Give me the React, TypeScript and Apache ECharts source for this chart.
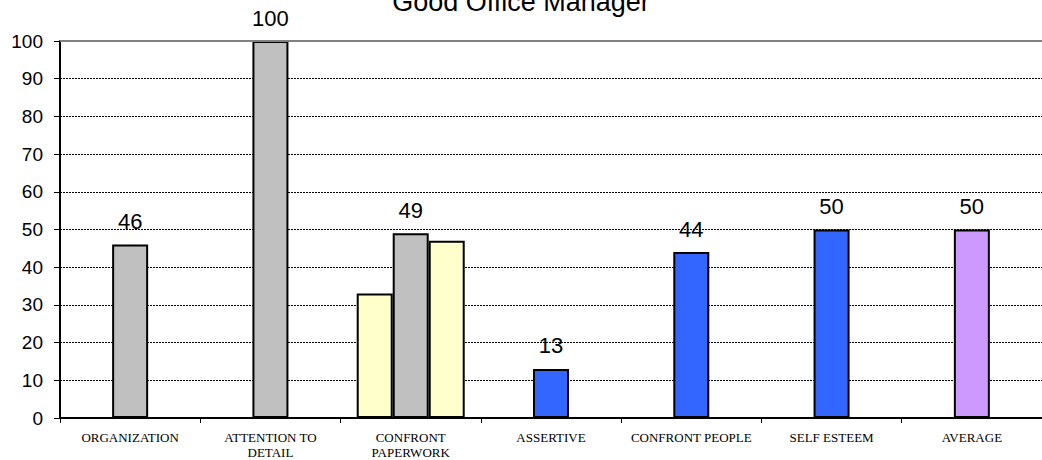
import React, { useEffect, useRef } from "react";
import * as echarts from "echarts";

const categories = [
  "ORGANIZATION",
  "ATTENTION TO\nDETAIL",
  "CONFRONT\nPAPERWORK",
  "ASSERTIVE",
  "CONFRONT PEOPLE",
  "SELF ESTEEM",
  "AVERAGE",
];
const scores = [46, 100, 49, 13, 44, 50, 50];
const scoreColors = ["#C0C0C0", "#C0C0C0", "#C0C0C0", "#3366FF", "#3366FF", "#3366FF", "#CC99FF"];
const paperworkLow = ["-", "-", 33, "-", "-", "-", "-"];
const paperworkHigh = ["-", "-", 47, "-", "-", "-", "-"];
const emptySlot = ["-", "-", "-", "-", "-", "-", "-"];
const yTicks = { min: 0, max: 100, interval: 10 };

const SANS = "'Liberation Sans', Arial, sans-serif";
const SERIF = "'Liberation Serif', 'Times New Roman', serif";

export default function App() {
  const ref = useRef<HTMLDivElement>(null);

  useEffect(() => {
    document.body.style.margin = "0";
    const chart = echarts.init(ref.current!, null, { renderer: "svg" });
    const barBorder = { borderColor: "#000", borderWidth: 2 };
    chart.setOption({
      animation: false,
      backgroundColor: "#fff",
      title: {
        text: "Good Office Manager",
        left: "center",
        top: -17,
        textStyle: { fontFamily: SANS, fontSize: 27, fontWeight: "normal", color: "#000" },
      },
      grid: { left: 60, top: 41, bottom: 42, width: 990 },
      xAxis: [
        {
          type: "category",
          data: categories,
          axisLine: { lineStyle: { color: "#000", width: 2 } },
          axisTick: { show: true, length: 5, lineStyle: { color: "#000" } },
          axisLabel: {
            interval: 0,
            margin: 12,
            fontFamily: SERIF,
            fontSize: 13,
            lineHeight: 15,
            color: "#000",
          },
        },
        {
          type: "category",
          data: categories,
          show: false,
        },
      ],
      yAxis: {
        type: "value",
        min: yTicks.min,
        max: yTicks.max,
        interval: yTicks.interval,
        axisLine: { show: true, lineStyle: { color: "#000", width: 2 } },
        axisTick: { show: true, length: 6, lineStyle: { color: "#000" } },
        axisLabel: { fontFamily: SANS, fontSize: 19, color: "#000", margin: 17 },
        splitLine: { lineStyle: { color: "#000", type: [2, 1], width: 1 } },
      },
      series: [
        {
          type: "bar",
          xAxisIndex: 0,
          barWidth: 36,
          data: scores.map((v, i) => ({ value: v, itemStyle: { color: scoreColors[i] } })),
          itemStyle: barBorder,
          label: {
            show: true,
            position: "top",
            distance: 12,
            fontFamily: SANS,
            fontSize: 22,
            color: "#000",
          },
          markLine: {
            silent: true,
            symbol: "none",
            label: { show: false },
            lineStyle: { color: "#808080", type: "solid", width: 2 },
            data: [{ yAxis: yTicks.max }],
          },
          z: 3,
        },
        {
          type: "bar",
          xAxisIndex: 1,
          barWidth: 36,
          barGap: "0%",
          data: paperworkLow,
          itemStyle: { ...barBorder, color: "#FFFFCC" },
        },
        {
          type: "bar",
          xAxisIndex: 1,
          barWidth: 36,
          barGap: "0%",
          data: emptySlot,
        },
        {
          type: "bar",
          xAxisIndex: 1,
          barWidth: 36,
          barGap: "0%",
          data: paperworkHigh,
          itemStyle: { ...barBorder, color: "#FFFFCC" },
        },
      ],
    });
    return () => chart.dispose();
  }, []);

  return <div ref={ref} style={{ width: 1042, height: 460 }} />;
}
